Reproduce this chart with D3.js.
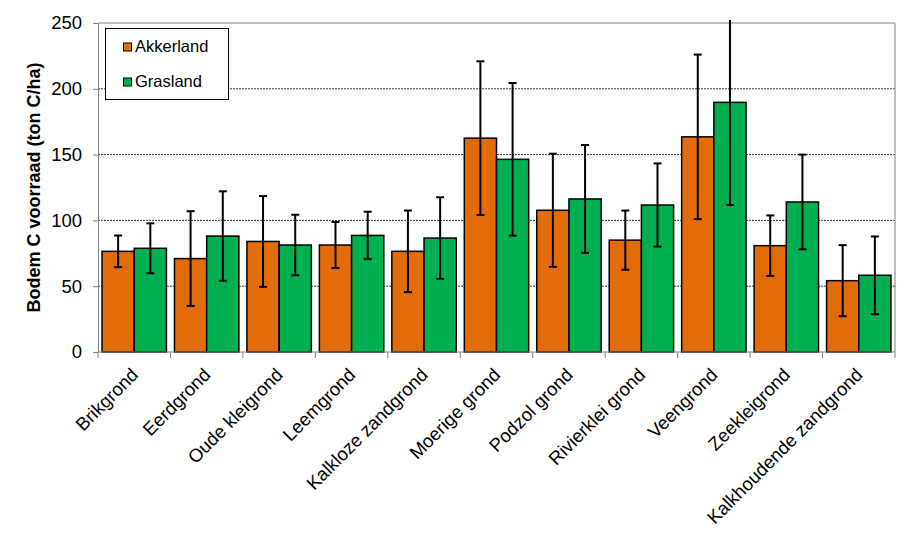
<!DOCTYPE html>
<html><head><meta charset="utf-8">
<script src="https://cdn.jsdelivr.net/npm/d3@7"></script>
<style>body{margin:0;background:#fff}svg{display:block}text{font-family:Arial,"Liberation Sans",sans-serif}</style>
</head><body><svg id="c" width="909" height="552"></svg>
<script>
const categories = ["Brikgrond","Eerdgrond","Oude kleigrond","Leemgrond","Kalkloze zandgrond","Moerige grond","Podzol grond","Rivierklei grond","Veengrond","Zeekleigrond","Kalkhoudende zandgrond"];
const seriesNames = ["Akkerland","Grasland"];
const akkerland = [76.5,71,84,81.3,76.5,162.5,107.7,85,163.5,80.8,54.2];
const akkerlandErr = [12,36,34.5,17.5,31,58.4,43,22.5,62.5,23,27];
const grasland = [78.8,88.1,81.3,88.6,86.6,146.4,116.3,111.7,189.7,114,58.3];
const graslandErr = [19,34,23,18,31,58,41,31.6,78,36,29.5];
const yTicks = [0,50,100,150,200,250];
const colors = ["#E36C09","#00B050"];

const svg = d3.select("#c");
const m = {l:98, r:895, t:23, b:352};
const x = d3.scaleBand().domain(categories).range([m.l, m.r]).paddingInner(0).paddingOuter(0);
const x1 = d3.scaleBand().domain(seriesNames).range([0, x.bandwidth()]).paddingInner(0).paddingOuter(0.125);
const y = d3.scaleLinear().domain([0,250]).range([m.b, m.t]);

// gridlines
svg.append("g").selectAll("line").data(yTicks.filter(d=>d>0 && d<250)).join("line")
  .attr("x1", m.l).attr("x2", m.r).attr("y1", d=>y(d)).attr("y2", d=>y(d))
  .attr("stroke","#000").attr("stroke-width",0.8).attr("stroke-dasharray","2,1");

// plot border top/right
svg.append("path").attr("d",`M${m.l},${m.t}H${m.r}V${m.b}`).attr("fill","none").attr("stroke","#808080").attr("stroke-width",1);

const data = categories.map((c,i)=>({c, vals:[
  {s:seriesNames[0], v:akkerland[i], e:akkerlandErr[i]},
  {s:seriesNames[1], v:grasland[i], e:graslandErr[i]}]}));

const g = svg.append("g").selectAll("g").data(data).join("g").attr("transform", d=>`translate(${x(d.c)},0)`);
g.selectAll("rect").data(d=>d.vals).join("rect")
  .attr("x", d=>x1(d.s)).attr("width", x1.bandwidth())
  .attr("y", d=>y(d.v)).attr("height", d=>y(0)-y(d.v))
  .attr("fill", (d,i)=>colors[i]).attr("stroke","#000").attr("stroke-width",1.5);

svg.append("clipPath").attr("id","pc").append("rect").attr("x",m.l).attr("y",m.t-3).attr("width",m.r-m.l).attr("height",m.b-m.t+3);
const eg = svg.append("g").attr("clip-path","url(#pc)");
data.forEach(d=>{
  d.vals.forEach(v=>{
    const cx = x(d.c) + x1(v.s) + x1.bandwidth()/2;
    const top = y(v.v+v.e), bot = y(v.v-v.e);
    eg.append("line").attr("x1",cx).attr("x2",cx).attr("y1",top).attr("y2",bot).attr("stroke","#000").attr("stroke-width",2);
    if (v.v+v.e <= 250) eg.append("line").attr("x1",cx-4).attr("x2",cx+4).attr("y1",top).attr("y2",top).attr("stroke","#000").attr("stroke-width",2);
    eg.append("line").attr("x1",cx-4).attr("x2",cx+4).attr("y1",bot).attr("y2",bot).attr("stroke","#000").attr("stroke-width",2);
  });
});

// y axis
const ya = svg.append("g").attr("transform",`translate(${m.l},0)`)
  .call(d3.axisLeft(y).tickValues(yTicks).tickSize(5).tickPadding(11));
ya.select(".domain").attr("stroke","#808080");
ya.selectAll(".tick line").attr("stroke","#808080");
ya.selectAll("text").attr("font-size",18.5).attr("fill","#000").attr("font-family","Arial, 'Liberation Sans', sans-serif");

// x axis
const xa = svg.append("g").attr("transform",`translate(0,${m.b})`);
xa.append("line").attr("x1",m.l).attr("x2",m.r).attr("stroke","#808080");
const bounds = categories.map(c=>x(c)).concat([m.r]);
xa.selectAll("line.t").data(bounds).join("line").attr("class","t")
  .attr("x1",d=>d).attr("x2",d=>d).attr("y1",0).attr("y2",6).attr("stroke","#808080");
xa.selectAll("text").data(categories).join("text")
  .attr("transform", d=>`translate(${x(d)+x.bandwidth()/2+5},${24}) rotate(-45)`)
  .attr("text-anchor","end").attr("font-size",18.5).attr("fill","#000").text(d=>d);

// y title
svg.append("text").attr("transform",`translate(40,${(m.t+m.b)/2}) rotate(-90)`)
  .attr("text-anchor","middle").attr("font-size",18).attr("font-weight","bold").text("Bodem C voorraad (ton C/ha)");

// legend
const lg = svg.append("g");
lg.append("rect").attr("x",105.5).attr("y",28.5).attr("width",123).attr("height",71).attr("fill","#fff").attr("stroke","#000").attr("stroke-width",1);
seriesNames.forEach((s,i)=>{
  const cy = 46 + i*35;
  lg.append("rect").attr("x",123.5).attr("y",cy-3).attr("width",8).attr("height",8).attr("fill",colors[i]).attr("stroke","#000").attr("stroke-width",1);
  lg.append("text").attr("x",135).attr("y",cy+6).attr("font-size",16.5).text(s);
});
</script></body></html>
